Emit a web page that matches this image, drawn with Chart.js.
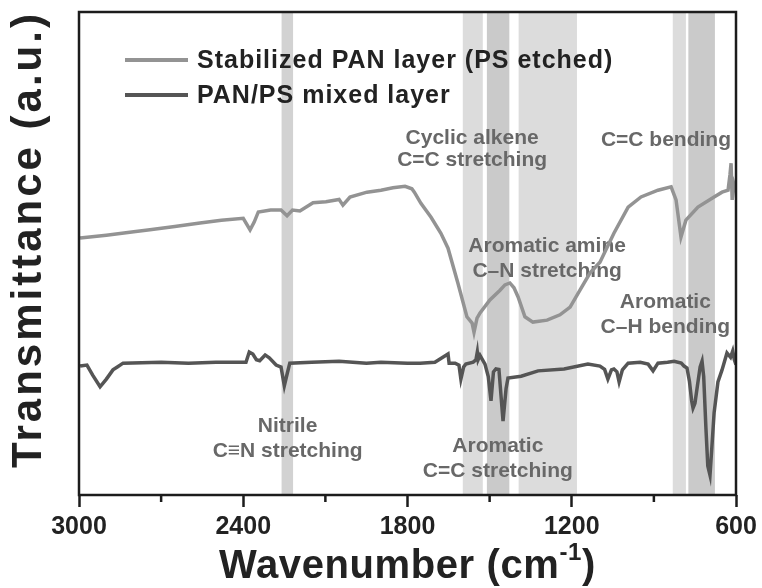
<!DOCTYPE html>
<html>
<head>
<meta charset="utf-8">
<script src="https://cdn.jsdelivr.net/npm/chart.js@4/dist/chart.umd.min.js"></script>
<style>
  html, body { margin: 0; padding: 0; background: #fff; }
</style>
</head>
<body>
<canvas id="ftirChart" width="762" height="588"></canvas>
<script>
// Stabilized PAN layer (PS etched) (arbitrary units)
const panWavenumbers = [2996, 2900, 2800, 2741, 2650, 2558, 2480, 2400, 2375, 2360, 2345, 2300, 2262, 2240, 2220, 2193, 2145, 2098, 2050, 2036, 2010, 1948, 1897, 1853, 1809, 1784, 1775, 1751, 1714, 1678, 1652, 1616, 1583, 1564, 1557, 1546, 1535, 1499, 1462, 1444, 1426, 1411, 1396, 1371, 1342, 1290, 1243, 1206, 1170, 1133, 1097, 1046, 994, 947, 885, 837, 819, 801, 783, 739, 680, 651, 629, 622, 618, 614, 607, 600];
const panValues = [53.2, 53.8, 54.5, 54.9, 55.6, 56.3, 56.9, 57.3, 54.9, 56.5, 58.6, 59.0, 59.0, 57.8, 59.0, 58.8, 60.5, 60.7, 61.2, 60.0, 61.7, 62.7, 63.1, 63.6, 63.9, 63.4, 62.7, 60.4, 57.5, 54.2, 51.1, 43.9, 36.9, 35.6, 33.7, 36.6, 37.7, 40.4, 42.4, 43.5, 43.9, 42.9, 41.0, 36.9, 35.8, 36.2, 37.3, 38.9, 42.4, 46.0, 48.2, 54.2, 59.6, 61.7, 63.1, 63.8, 61.1, 53.4, 56.9, 59.6, 61.7, 62.7, 63.1, 66.3, 68.7, 61.1, 64.2, 62.7];

// PAN/PS mixed layer
const mixedWavenumbers = [2996, 2971, 2950, 2923, 2900, 2876, 2860, 2839, 2700, 2600, 2500, 2412, 2390, 2378, 2365, 2352, 2340, 2320, 2305, 2280, 2262, 2250, 2240, 2230, 2150, 2050, 1950, 1897, 1800, 1754, 1700, 1652, 1648, 1626, 1612, 1605, 1595, 1587, 1560, 1550, 1545, 1542, 1535, 1517, 1505, 1495, 1486, 1477, 1466, 1451, 1440, 1433, 1385, 1323, 1228, 1141, 1097, 1080, 1068, 1055, 1046, 1035, 1027, 1015, 994, 950, 921, 903, 885, 850, 826, 800, 790, 779, 770, 762, 757, 750, 740, 731, 724, 718, 710, 703, 695, 688, 680, 666, 651, 633, 620, 612, 606, 600];
const mixedValues = [26.7, 26.9, 24.8, 22.4, 24.0, 25.9, 26.5, 27.3, 27.5, 27.3, 27.5, 27.5, 27.5, 29.6, 29.2, 28.0, 27.8, 29.0, 28.4, 26.9, 26.5, 22.6, 25.0, 27.3, 27.5, 27.7, 27.3, 27.5, 27.3, 27.3, 27.5, 29.2, 27.3, 27.3, 26.9, 24.0, 26.5, 27.1, 27.5, 28.0, 29.6, 28.0, 28.9, 27.1, 24.5, 19.5, 25.5, 26.1, 26.0, 15.3, 22.0, 24.2, 24.6, 25.7, 26.1, 27.1, 26.7, 26.0, 24.0, 25.9, 26.1, 25.5, 23.4, 25.9, 27.3, 27.5, 27.1, 25.7, 27.3, 27.5, 27.7, 27.3, 26.7, 26.3, 23.5, 19.5, 18.0, 19.0, 23.0, 26.5, 27.7, 24.5, 14.0, 6.0, 4.1, 10.0, 17.0, 23.4, 25.9, 29.4, 28.5, 29.8, 28.0, 27.0];

const majorTicks = [3000, 2400, 1800, 1200, 600];
const minorTicks = [2700, 2100, 1500, 900];

// shaded assignment bands [from, to] in cm-1
const bandRanges = [[2260, 2218], [1598, 1525], [1510, 1428], [1394, 1181], [831, 783], [774, 677]];

// peak assignment notes, one entry per text line
const noteTexts = ['Cyclic alkene', 'C=C stretching', 'C=C bending', 'Aromatic amine', 'C\u2013N stretching', 'Aromatic', 'C\u2013H bending', 'Nitrile', 'C\u2261N stretching', 'Aromatic', 'C=C stretching'];
const noteWavenumbers = [1564, 1564, 856, 1290, 1290, 858, 858, 2238, 2238, 1470, 1470];
const noteValues = [73.9, 69.4, 73.5, 51.6, 46.4, 40.0, 34.8, 14.3, 9.1, 10.1, 5.0];

const FONT = '"Liberation Sans", Arial, sans-serif';
const bandShades = ['#d2d2d2', '#dcdcdc', '#cacaca', '#dcdcdc', '#dcdcdc', '#cacaca'];

const toPoints = (xs, ys) => xs.map((x, i) => ({ x: x, y: ys[i] }));

const backgroundPlugin = {
  id: 'bandsAndNotes',
  beforeDatasetsDraw(chart) {
    const { ctx, chartArea, scales: { x, y } } = chart;
    ctx.save();
    bandRanges.forEach((r, i) => {
      const a = x.getPixelForValue(r[0]);
      const b = x.getPixelForValue(r[1]);
      ctx.fillStyle = bandShades[i];
      ctx.fillRect(Math.min(a, b), chartArea.top, Math.abs(b - a), chartArea.bottom - chartArea.top);
    });
    ctx.font = 'bold 21px ' + FONT;
    ctx.fillStyle = '#686868';
    ctx.textAlign = 'center';
    ctx.textBaseline = 'middle';
    noteTexts.forEach((t, i) => {
      ctx.fillText(t, x.getPixelForValue(noteWavenumbers[i]), y.getPixelForValue(noteValues[i]));
    });
    ctx.restore();
  }
};

const framePlugin = {
  id: 'frameLegendTitles',
  afterDraw(chart) {
    const { ctx, chartArea: ca, scales: { x } } = chart;
    ctx.save();
    // box
    ctx.strokeStyle = '#1c1c1c';
    ctx.lineWidth = 2.5;
    ctx.strokeRect(ca.left, ca.top, ca.right - ca.left, ca.bottom - ca.top);
    // minor ticks
    ctx.beginPath();
    minorTicks.forEach(v => {
      const px = x.getPixelForValue(v);
      ctx.moveTo(px, ca.bottom);
      ctx.lineTo(px, ca.bottom + 7);
    });
    ctx.stroke();

    // legend
    ctx.font = 'bold 25px ' + FONT;
    ctx.letterSpacing = '1px';
    ctx.textAlign = 'left';
    ctx.textBaseline = 'middle';
    chart.data.datasets.forEach((ds, i) => {
      const ly = 60 + i * 35;
      ctx.strokeStyle = ds.borderColor;
      ctx.lineWidth = 4;
      ctx.beginPath();
      ctx.moveTo(125, ly);
      ctx.lineTo(188, ly);
      ctx.stroke();
      ctx.fillStyle = '#222';
      ctx.fillText(ds.label, 197, ly + 1);
    });

    // y title
    ctx.fillStyle = '#222';
    ctx.font = 'bold 42px ' + FONT;
    ctx.letterSpacing = '3px';
    ctx.translate(29, (ca.top + ca.bottom) / 2 - 14);
    ctx.rotate(-Math.PI / 2);
    ctx.textAlign = 'center';
    ctx.fillText('Transmittance (a.u.)', 0, 0);
    ctx.setTransform(1, 0, 0, 1, 0, 0);

    // x title with superscript
    const main = 'Wavenumber (cm';
    const sup = '-1';
    const end = ')';
    ctx.letterSpacing = '0.6px';
    ctx.font = 'bold 40px ' + FONT;
    const wMain = ctx.measureText(main).width;
    const wEnd = ctx.measureText(end).width;
    ctx.font = 'bold 24px ' + FONT;
    const wSup = ctx.measureText(sup).width;
    let sx = (ca.left + ca.right) / 2 - (wMain + wSup + wEnd) / 2;
    const base = 578;
    ctx.textAlign = 'left';
    ctx.textBaseline = 'alphabetic';
    ctx.font = 'bold 40px ' + FONT;
    ctx.fillText(main, sx, base);
    sx += wMain;
    ctx.font = 'bold 24px ' + FONT;
    ctx.fillText(sup, sx, base - 18);
    sx += wSup;
    ctx.font = 'bold 40px ' + FONT;
    ctx.fillText(end, sx, base);
    ctx.restore();
  }
};

new Chart(document.getElementById('ftirChart').getContext('2d'), {
  type: 'line',
  data: {
    datasets: [{
      label: 'Stabilized PAN layer (PS etched)',
      data: toPoints(panWavenumbers, panValues),
      borderColor: '#939393',
      borderWidth: 3.5,
      pointRadius: 0,
      tension: 0
    }, {
      label: 'PAN/PS mixed layer',
      data: toPoints(mixedWavenumbers, mixedValues),
      borderColor: '#555555',
      borderWidth: 3.5,
      pointRadius: 0,
      tension: 0
    }]
  },
  options: {
    responsive: false,
    animation: false,
    devicePixelRatio: 1,
    layout: { padding: { left: 79, right: 26, top: 12, bottom: 0 } },
    plugins: { legend: { display: false }, tooltip: { enabled: false } },
    scales: {
      x: {
        type: 'linear',
        reverse: true,
        min: 600,
        max: 3000,
        afterFit: s => { s.height = 93; },
        border: { display: false },
        grid: {
          drawOnChartArea: false,
          drawTicks: true,
          tickLength: 12,
          tickWidth: 2.5,
          tickColor: c => (c.tick && majorTicks.includes(c.tick.value)) ? '#1c1c1c' : 'rgba(0,0,0,0)'
        },
        ticks: {
          stepSize: 300,
          autoSkip: false,
          maxRotation: 0,
          padding: 5,
          color: '#222',
          font: { family: FONT, size: 25, weight: 'bold' },
          callback: v => majorTicks.includes(v) ? String(v) : ''
        }
      },
      y: {
        display: false,
        min: 0,
        max: 100
      }
    }
  },
  plugins: [backgroundPlugin, framePlugin]
});
</script>
</body>
</html>
